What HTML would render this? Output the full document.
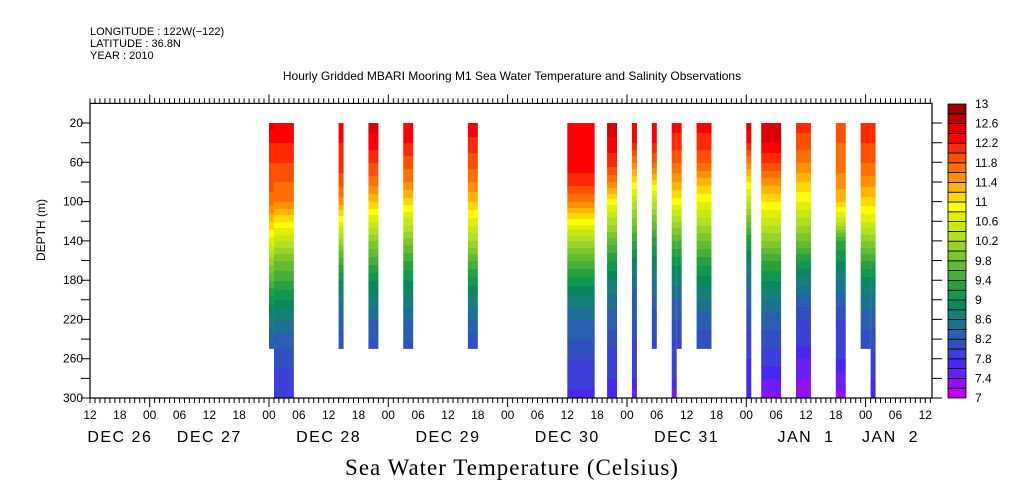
<!DOCTYPE html>
<html><head><meta charset="utf-8"><style>
html,body{margin:0;padding:0;background:#fff;}
svg{display:block;font-family:"Liberation Sans",sans-serif;}
</style></head><body>
<svg id="chart" width="1009" height="504" viewBox="0 0 1009 504">
<g font-size="11" fill="#000">
<text x="90" y="35">LONGITUDE : 122W(−122)</text>
<text x="90" y="47">LATITUDE : 36.8N</text>
<text x="90" y="59">YEAR : 2010</text>
<text x="512" y="80" text-anchor="middle" font-size="12">Hourly Gridded MBARI Mooring M1 Sea Water Temperature and Salinity Observations</text>
</g>
<g id="plot"></g>
<g id="axes"></g>
<g id="cbar"></g>
<text x="45" y="230" transform="rotate(-90 45 230)" text-anchor="middle" font-size="12">DEPTH (m)</text>
<text x="512" y="475" text-anchor="middle" font-size="23" font-family="Liberation Serif,serif" letter-spacing="1">Sea Water Temperature (Celsius)</text>
</svg>
<script>
// Data: hours since Dec 26 12:00
const blockStarts = [36, 37, 50, 56, 63, 76, 96, 104, 109, 113, 117, 118, 122, 132, 135, 142, 150, 155, 157];
const blockEnds   = [37, 41, 51, 58, 65, 78, 101.5, 106, 110, 114, 118, 119, 125, 133, 139, 145, 152, 157, 158];
const blockMaxDepth = [250, 300, 250, 250, 250, 250, 300, 300, 300, 250, 300, 250, 250, 300, 300, 300, 300, 250, 300];
const profileDepths = [20, 40, 60, 80, 100, 120, 140, 160, 180, 200, 220, 240, 260, 280, 300];
const profiles = [
 [12.5,12.2,12.0,11.9,11.7,11.2,10.7,10.1,9.6,9.1,8.7,8.3,8.1,7.9,7.8],
 [12.4,12.2,12.0,11.8,11.6,11.0,10.4,9.8,9.4,9.0,8.6,8.3,8.1,7.9,7.8],
 [12.3,12.2,12.1,11.9,11.5,10.8,10.1,9.5,9.0,8.6,8.3,8.1,8.0,7.9,7.8],
 [12.5,12.3,12.0,11.7,11.2,10.6,10.0,9.5,9.0,8.7,8.4,8.2,8.0,7.9,7.8],
 [12.3,12.2,11.9,11.6,11.1,10.5,9.9,9.4,9.0,8.7,8.4,8.2,8.0,7.9,7.7],
 [12.4,12.1,11.9,11.6,11.2,10.7,10.2,9.6,9.1,8.7,8.4,8.1,8.0,7.9,7.8],
 [12.3,12.3,12.3,12.1,11.6,10.9,10.2,9.6,9.1,8.7,8.4,8.2,8.0,7.9,7.7],
 [12.6,12.3,12.1,11.6,10.9,10.3,9.7,9.2,8.8,8.5,8.3,8.1,7.9,7.8,7.7],
 [12.4,12.2,11.6,11.0,10.4,9.9,9.4,8.9,8.5,8.3,8.2,8.0,7.9,7.8,7.4],
 [12.3,12.2,11.8,11.1,10.4,9.8,9.3,8.9,8.6,8.3,8.1,8.0,7.9,7.8,7.7],
 [12.3,12.1,11.8,11.4,10.9,10.2,9.6,9.1,8.7,8.4,8.2,8.0,7.9,7.8,7.3],
 [12.3,12.1,11.8,11.4,10.9,10.2,9.6,9.1,8.7,8.4,8.2,8.0,7.9,7.8,7.7],
 [12.3,12.1,11.8,11.3,10.8,10.3,9.8,9.3,8.9,8.6,8.3,8.1,7.9,7.8,7.7],
 [12.5,12.2,11.6,11.0,10.4,9.8,9.2,8.8,8.5,8.3,8.1,7.9,7.8,7.7,7.6],
 [12.6,12.4,12.0,11.5,11.0,10.5,10.0,9.4,9.0,8.6,8.3,8.1,7.9,7.6,7.3],
 [12.1,11.9,11.6,11.2,10.8,10.3,9.8,9.2,8.7,8.3,8.0,7.9,7.6,7.4,7.2],
 [11.9,11.8,11.7,11.5,11.2,10.4,9.4,9.0,8.6,8.3,8.0,7.9,7.8,7.5,7.3],
 [12.2,12.0,11.8,11.5,11.1,10.6,10.0,9.4,8.9,8.5,8.3,8.1,7.9,7.8,7.7],
 [12.2,12.0,11.8,11.5,11.1,10.6,10.0,9.4,8.9,8.5,8.3,8.1,7.9,7.8,7.7]
];
const bandColors = ["#c000f8","#9010f8","#6820f8","#4828f0","#3c40d8","#3050c0","#2a5eb0","#1c7090","#148078","#08885c","#10984c","#28a040","#44b038","#60bc30","#7cc828","#98d428","#b0e020","#c8e810","#e0f000","#ffff00","#ffd800","#ffb400","#ff9000","#ff7000","#ff5000","#ff2800","#ff0000","#dd0000","#be0000","#9a0000"];
const cbarLabels = ["7","7.4","7.8","8.2","8.6","9","9.4","9.8","10.2","10.6","11","11.4","11.8","12.2","12.6","13"];
const yTicks = [20,40,60,80,100,120,140,160,180,200,220,240,260,280,300];
const yLabels = ["20","60","100","140","180","220","260","300"];
const hourLabels = ["12","18","00","06","12","18","00","06","12","18","00","06","12","18","00","06","12","18","00","06","12","18","00","06","12","18","00","06","12"];
const dateLabels = ["DEC 26","DEC 27","DEC 28","DEC 29","DEC 30","DEC 31","JAN  1","JAN  2"];
const dateHours = [6,24,48,72,96,120,144,161];

const NS="http://www.w3.org/2000/svg";
const X0=90,X1=932,Y0=103.4,Y1=398;
const pxPerHour=4.972, pxPerM=(Y1-Y0)/300;
const xS=h=>X0+h*pxPerHour;
const yS=d=>Y0+d*pxPerM;
const tMin=7,tMax=13,nB=30;
function colorFor(t){let i=Math.floor((t-tMin)/((tMax-tMin)/nB));i=Math.max(0,Math.min(nB-1,i));return bandColors[i];}
function interp(p,d){if(d<=profileDepths[0])return p[0];for(let i=1;i<profileDepths.length;i++){if(d<=profileDepths[i]){const f=(d-profileDepths[i-1])/(profileDepths[i]-profileDepths[i-1]);return p[i-1]+f*(p[i]-p[i-1]);}}return p[p.length-1];}
function mk(tag,attrs,parent){const e=document.createElementNS(NS,tag);for(const k in attrs)e.setAttribute(k,attrs[k]);parent.appendChild(e);return e;}

const plot=document.getElementById('plot');
for(let b=0;b<blockStarts.length;b++){
  const g=mk('g',{},plot);
  
  
  const xa=xS(blockStarts[b]),xb=xS(blockEnds[b]);
  const ya=yS(20),yb=yS(blockMaxDepth[b]);
  let runStart=ya,runCol=null;
  for(let y=ya;y<=yb+0.001;y+=1){
    const d=(y-Y0)/pxPerM;const c=colorFor(interp(profiles[b],d));
    if(c!==runCol){
      if(runCol){mk('rect',{x:xa,y:runStart,width:xb-xa,height:y-runStart+0.5,fill:runCol},g);}
      runStart=y;runCol=c;
    }
  }
  mk('rect',{x:xa,y:runStart,width:xb-xa,height:yb-runStart,fill:runCol},g);
}

const ax=document.getElementById('axes');
const frame=mk('rect',{x:X0,y:Y0,width:X1-X0,height:Y1-Y0,fill:'none',stroke:'#000','stroke-width':1.2},ax);


let path='';
for(let h=0;xS(h)<=X1+0.1;h++){
  const x=xS(h).toFixed(1);const major=((h+12)%24===0);const len=major?9:5;
  path+=`M${x} ${Y1}v${len}M${x} ${Y0}v${-len}`;
}
yTicks.forEach(d=>{const y=yS(d).toFixed(1);path+=`M${X0} ${y}h-9M${X1} ${y}h10`;});
mk('path',{d:path,stroke:'#000','stroke-width':1,fill:'none'},ax);
yLabels.forEach(l=>{const t=mk('text',{x:83,y:yS(+l)+4,'text-anchor':'end','font-size':12},ax);t.textContent=l;
  
  });
hourLabels.forEach((l,i)=>{const t=mk('text',{x:xS(i*6),y:419,'text-anchor':'middle','font-size':12},ax);t.textContent=l;
  
  });
dateLabels.forEach((l,i)=>{const t=mk('text',{x:xS(dateHours[i]),y:442,'text-anchor':'middle','font-size':16,'letter-spacing':1.5},ax);t.textContent=l;t.style.whiteSpace='pre';
  
  });

const cb=document.getElementById('cbar');
const CX=948,CW=18,CT=104,CB=398,bh=(CB-CT)/nB;
bandColors.forEach((c,i)=>{const r=mk('rect',{x:CX,y:CB-(i+1)*bh,width:CW,height:bh,fill:c,stroke:'#000','stroke-width':0.8},cb);
  
  });
cbarLabels.forEach((l,i)=>{const t=mk('text',{x:975,y:CB-(+l-7)/6*(CB-CT)+4,'font-size':12},cb);t.textContent=l;
  
  });
</script>
</body></html>
